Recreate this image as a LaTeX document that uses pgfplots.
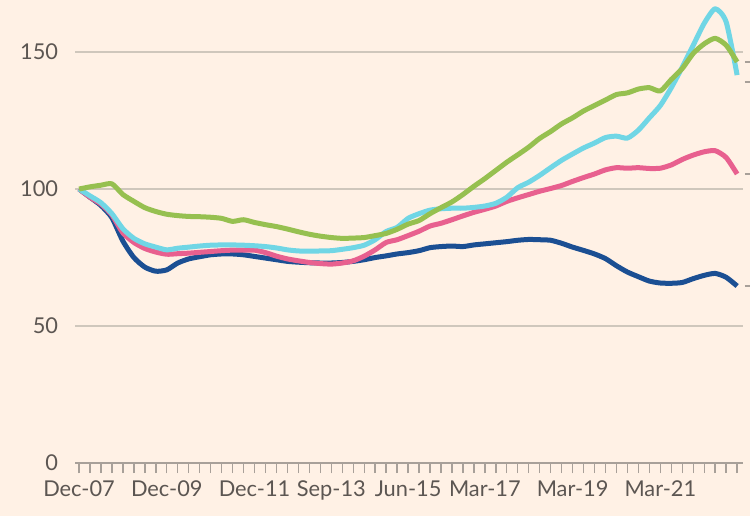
\documentclass[border=0pt]{standalone}
\usepackage{fontspec}
\setmainfont{Lato}
\usepackage{pgfplots}
\pgfplotsset{compat=1.18}
\usepackage{pgfplotstable}

\definecolor{paper}{HTML}{FFF1E5}
\definecolor{gridc}{HTML}{CFC7BC}
\definecolor{axisc}{HTML}{A8A099}
\definecolor{textc}{HTML}{5C5652}
\definecolor{sblue}{HTML}{1B4F93}
\definecolor{spink}{HTML}{E8608F}
\definecolor{scyan}{HTML}{70D6E5}
\definecolor{sgreen}{HTML}{96C050}

% quarterly index, Dec-07 = 0 (rebased to 100)
\pgfplotstableread{
q  blue  pink  cyan  green
0  100   100   100   100
1  97    97    97.5  100.8
2  94    94.5  95    101.4
3  89.5  90.5  91    101.9
4  81    84    85.5  98
5  75    80.5  82    95.5
6  71.5  78.3  80    93.2
7  70    77    78.8  91.8
8  70.5  76.2  77.8  90.8
9  73    76.4  78.4  90.3
10 74.5  76.6  78.8  90
11 75.3  76.9  79.2  89.9
12 76    77.2  79.5  89.7
13 76.3  77.5  79.6  89.3
14 76.3  77.7  79.6  88.2
15 76    77.7  79.5  88.8
16 75.4  77.7  79.3  87.8
17 74.8  76.8  79    87
18 74.2  75.5  78.5  86.3
19 73.6  74.5  77.8  85.4
20 73.3  73.8  77.4  84.4
21 73.1  73.2  77.3  83.5
22 73    72.8  77.4  82.8
23 73    72.6  77.5  82.3
24 73.2  73    78    82
25 73.6  73.8  78.6  82.1
26 74.2  75.5  79.5  82.3
27 75    77.8  81.5  83
28 75.6  80.5  84.5  83.8
29 76.3  81.5  86    85.3
30 76.8  83    89.3  87.2
31 77.5  84.6  91    88.5
32 78.6  86.5  92.3  91
33 79    87.5  92.8  93.2
34 79.2  88.8  93    95.3
35 79    90.2  93    98
36 79.6  91.5  93.3  101
37 80    92.6  93.8  103.8
38 80.4  93.8  94.8  106.8
39 80.8  95.5  97    109.8
40 81.3  96.8  100.5 112.5
41 81.6  98    102.5 115.3
42 81.5  99.2  105   118.5
43 81.3  100.2 107.8 121
44 80.2  101.3 110.5 123.8
45 78.8  102.8 112.8 126
46 77.6  104.2 115   128.5
47 76.3  105.5 116.8 130.5
48 74.6  107   118.8 132.5
49 72    107.8 119.3 134.5
50 69.7  107.6 118.6 135.1
51 68    107.8 121.5 136.5
52 66.4  107.5 126   137
53 65.7  107.6 130.5 135.8
54 65.6  108.8 137   140
55 65.9  110.8 144.5 144
56 67.3  112.4 152.5 149.5
57 68.5  113.6 160.5 153
58 69.2  114   165.8 155
59 67.8  111.5 161   152.5
60 64.6  105.5 141.6 146.4
}\prices

\begin{document}
\begin{tikzpicture}
\fill[paper] (0,0) rectangle (375pt,258pt);
\begin{axis}[
  at={(37.6pt,26.5pt)}, anchor=south west,
  scale only axis, width=333.7pt, height=231.5pt,
  xmin=-0.35, xmax=60.5, ymin=0, ymax=169,
  axis x line*=bottom, axis y line*=left,
  x axis line style={draw=axisc, line width=1pt},
  y axis line style={draw=none},
  xtick={0,8,16,23,30,37,45,53},
  xticklabels={Dec-07,Dec-09,Dec-11,Sep-13,Jun-15,Mar-17,Mar-19,Mar-21},
  minor xtick={0,...,60},
  tick align=outside,
  major tick length=5pt, minor tick length=5pt,
  x tick style={draw=axisc, line width=0.7pt},
  ytick={0,50,100,150},
  y tick style={draw=none},
  ymajorgrids, grid style={draw=gridc, line width=1pt},
  tick label style={font=\fontsize{10.9}{12}\selectfont, text=textc},
  /pgf/number format/assume math mode=true,
  yticklabel style={xshift=0pt},
  xticklabel style={yshift=-0.5pt},
  clip=false,
  every axis plot/.append style={line width=2.5pt, line join=round, smooth, tension=0.4},
]
\addplot[sblue]  table[x=q, y=blue]  {\prices};
\addplot[spink]  table[x=q, y=pink]  {\prices};
\addplot[scyan]  table[x=q, y=cyan]  {\prices};
\addplot[sgreen] table[x=q, y=green] {\prices};
% leader ticks towards the series labels on the right
\draw[axisc, line width=0.8pt] (axis cs:60.7,146.4) -- (axis cs:61.6,146.4);
\draw[axisc, line width=0.8pt] (axis cs:60.7,139) -- (axis cs:61.6,139);
\draw[axisc, line width=0.8pt] (axis cs:60.7,105.5) -- (axis cs:61.6,105.5);
\draw[axisc, line width=0.8pt] (axis cs:60.7,64.6) -- (axis cs:61.6,64.6);
\end{axis}
\pgfresetboundingbox
\path[use as bounding box] (0,0) rectangle (375pt,258pt);
\end{tikzpicture}
\end{document}
